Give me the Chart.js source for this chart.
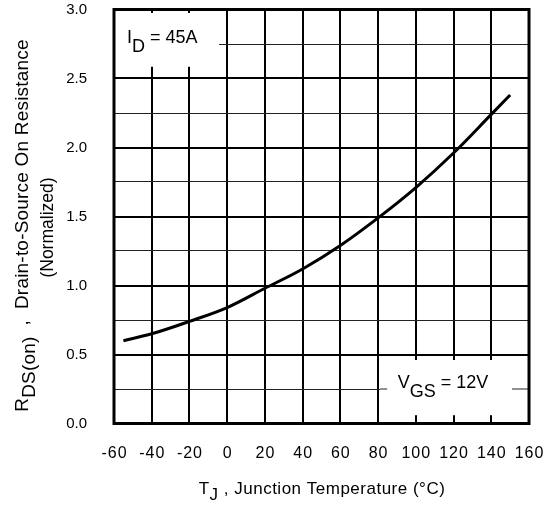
<!DOCTYPE html>
<html>
<head>
<meta charset="utf-8">
<script src="https://cdn.jsdelivr.net/npm/chart.js@4/dist/chart.umd.min.js"></script>
<style>
  html, body { margin: 0; padding: 0; background: #fff; }
  #wrap { width: 553px; height: 506px; }
</style>
</head>
<body>
<div id="wrap"><canvas id="c" width="553" height="506"></canvas></div>
<script>
// Junction temperature (°C) and normalized on-resistance
const tempC = [-55, -40, -20, 0, 20, 40, 60, 80, 100, 120, 140, 150];
const rdsNorm = [0.60, 0.65, 0.74, 0.84, 0.98, 1.12, 1.29, 1.49, 1.71, 1.96, 2.24, 2.38];

// Axis ranges and tick labels
const xTicks = [-60, -40, -20, 0, 20, 40, 60, 80, 100, 120, 140, 160];
const yTickLabels = ['0.0', '0.5', '1.0', '1.5', '2.0', '2.5', '3.0'];

const FONT = '"Liberation Sans", Arial, Helvetica, sans-serif';

// draw a run of text pieces, each with its own baseline shift
function drawRuns(ctx, x, y, runs, size, spacing) {
  ctx.font = size + 'px ' + FONT;
  ctx.letterSpacing = (spacing || 0) + 'px';
  ctx.textBaseline = 'alphabetic';
  ctx.textAlign = 'left';
  let cx = x;
  for (const r of runs) {
    ctx.fillText(r.t, cx, y + (r.dy || 0));
    cx += ctx.measureText(r.t).width;
  }
  return cx;
}
function runsWidth(ctx, runs, size, spacing) {
  ctx.font = size + 'px ' + FONT;
  ctx.letterSpacing = (spacing || 0) + 'px';
  let w = 0;
  for (const r of runs) w += ctx.measureText(r.t).width;
  return w;
}
const isMajor = v => Math.abs(v * 2 - Math.round(v * 2)) < 1e-9;

const notes = {
  id: 'notes',
  afterLayout(chart) {
    // slightly wider tracking for the temperature tick labels
    const xs = chart.scales.x;
    if (!xs._spaced) {
      const orig = xs.drawLabels.bind(xs);
      xs.drawLabels = function (area) {
        const ctx = chart.ctx;
        ctx.save();
        ctx.letterSpacing = '1px';
        ctx.translate(0.5, 0);
        orig(area);
        ctx.restore();
      };
      xs._spaced = true;
    }
  },
  beforeDatasetsDraw(chart) {
    const { ctx, chartArea: a, scales: { x, y } } = chart;
    ctx.save();
    ctx.fillStyle = '#fff';
    // I_D label box (top-left)
    ctx.fillRect(a.left, y.getPixelForValue(2.975), x.getPixelForValue(-4.3) - a.left,
                 y.getPixelForValue(2.585) - y.getPixelForValue(2.975));
    // V_GS label box (bottom-right)
    const bx = x.getPixelForValue(81.2), bt = y.getPixelForValue(0.46), bb = y.getPixelForValue(0.06);
    ctx.fillRect(bx, bt, a.right - bx, bb - bt);
    // minor grid line continues through the V_GS box
    ctx.strokeStyle = '#222';
    ctx.lineWidth = 1;
    const gy = y.getPixelForValue(0.25);
    ctx.beginPath();
    ctx.moveTo(bx, gy); ctx.lineTo(a.right, gy); ctx.stroke();
    // gap behind the V_GS text
    ctx.fillStyle = '#fff';
    ctx.fillRect(x.getPixelForValue(84.8), gy - 12, x.getPixelForValue(151) - x.getPixelForValue(84.8), 24);

    ctx.fillStyle = '#000';
    drawRuns(ctx, x.getPixelForValue(-53.1), y.getPixelForValue(2.757),
      [{ t: 'I' }, { t: 'D', dy: 8.5 }, { t: ' = 45A' }], 18);
    drawRuns(ctx, x.getPixelForValue(90.4), y.getPixelForValue(0.258),
      [{ t: 'V' }, { t: 'GS', dy: 9.5 }, { t: ' = 12V' }], 18);
    ctx.restore();
  },
  afterDatasetsDraw(chart) {
    const { ctx, chartArea: a } = chart;
    ctx.save();
    ctx.strokeStyle = '#000';
    ctx.lineWidth = 3;
    ctx.strokeRect(a.left, a.top, a.right - a.left, a.bottom - a.top);
    ctx.restore();
  },
  afterDraw(chart) {
    const { ctx, chartArea: a } = chart;
    ctx.save();
    ctx.fillStyle = '#000';
    // x axis title
    const xr = [{ t: 'T' }, { t: 'J', dy: 6 }, { t: ' , Junction Temperature (°C)' }];
    const xw = runsWidth(ctx, xr, 17, 0.5);
    drawRuns(ctx, 322 - xw / 2, 494, xr, 17, 0.5);
    // y axis title, two rotated lines
    ctx.translate(0, (a.top + a.bottom) / 2);
    ctx.rotate(-Math.PI / 2);
    const yr = [{ t: 'R' }, { t: 'DS(on)', dy: 7 }, { t: '  ,  Drain-to-Source On Resistance' }];
    const yw = runsWidth(ctx, yr, 19, 0.2);
    drawRuns(ctx, -yw / 2 - 9, 28, yr, 19, 0.2);
    const nr = [{ t: '(Normalized)' }];
    const nw = runsWidth(ctx, nr, 17.5, 0);
    drawRuns(ctx, -nw / 2 - 11, 53, nr, 17.5, 0);
    ctx.restore();
  }
};

new Chart(document.getElementById('c'), {
  type: 'scatter',
  data: {
    datasets: [{
      data: tempC.map((t, i) => ({ x: t, y: rdsNorm[i] })),
      showLine: true,
      borderColor: '#000',
      borderWidth: 3,
      pointRadius: 0,
      cubicInterpolationMode: 'monotone',
      fill: false
    }]
  },
  options: {
    responsive: false,
    devicePixelRatio: 1,
    animation: false,
    layout: { padding: { top: 9.5, right: 24, left: 0, bottom: 0 } },
    plugins: { legend: { display: false }, tooltip: { enabled: false } },
    scales: {
      x: {
        type: 'linear',
        min: xTicks[0], max: xTicks[xTicks.length - 1],
        afterFit: s => { s.height = 82.5; s.paddingLeft = 0; s.paddingRight = 0; },
        afterBuildTicks: s => { s.ticks = xTicks.map(v => ({ value: v })); },
        ticks: {
          color: '#000', padding: 20,
          font: { family: FONT, size: 16 },
          callback: v => String(v)
        },
        grid: { color: '#000', lineWidth: 2, drawTicks: false },
        border: { display: false }
      },
      y: {
        type: 'linear',
        min: 0, max: 3,
        afterFit: s => { s.width = 114; s.paddingTop = 0; s.paddingBottom = 0; },
        ticks: {
          stepSize: 0.25,
          color: '#000', padding: 27,
          font: { family: FONT, size: 15 },
          callback: v => (isMajor(v) ? yTickLabels[Math.round(v * 2)] : '')
        },
        grid: {
          color: c => (isMajor(c.tick.value) ? '#000' : '#222'),
          lineWidth: c => (isMajor(c.tick.value) ? 2 : 1),
          drawTicks: false
        },
        border: { display: false }
      }
    }
  },
  plugins: [notes]
});
</script>
</body>
</html>
